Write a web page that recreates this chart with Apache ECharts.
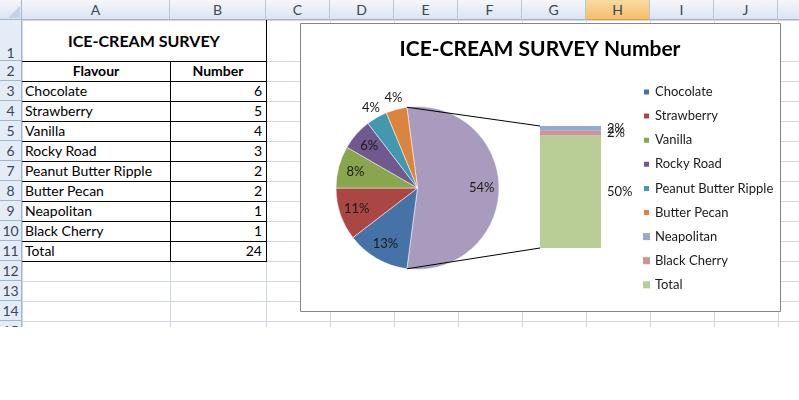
<!DOCTYPE html>
<html>
<head>
<meta charset="utf-8">
<title>ICE-CREAM SURVEY Number</title>
<style>
  body { margin: 0; background: #fff; }
  #sheet { position: absolute; left: 0; top: 0; width: 799px; height: 327px; overflow: hidden;
           font-family: Lato, 'Open Sans', sans-serif; font-size: 14px; color: #000; }
  #main { position: absolute; left: 0; top: 0; width: 799px; height: 400px; }
  .c { position: absolute; box-sizing: border-box; white-space: nowrap; }
</style>
</head>
<body>
<div id="sheet"></div>
<div id="main"></div>
<script src="https://cdn.jsdelivr.net/npm/echarts@6/dist/echarts.min.js"></script>
<script>
// survey data
var flavours = ['Chocolate', 'Strawberry', 'Vanilla', 'Rocky Road', 'Peanut Butter Ripple', 'Butter Pecan', 'Neapolitan', 'Black Cherry'];
var numbers = [6, 5, 4, 3, 2, 2, 1, 1];
var totalName = 'Total';
var totalValue = 24;
// percent labels as Excel shows them
var pieLabels = ['13%', '11%', '8%', '6%', '4%', '4%'];
var otherLabel = '54%';
var barLabels = ['2%', '2%', '50%'];
var colLetters = ['A', 'B', 'C', 'D', 'E', 'F', 'G', 'H', 'I', 'J', 'K'];
var colors = ['#4572A7', '#AA4643', '#89A54E', '#71588F', '#4198AF', '#DB843D', '#93A9CF', '#D19392', '#B9CD96'];
var otherColor = '#A99BBD';

// ---------- spreadsheet behind the chart ----------
var sheet = document.getElementById('sheet');
function add(x, y, w, h, css, text) {
  var d = document.createElement('div');
  d.className = 'c';
  d.style.cssText = 'left:' + x + 'px;top:' + y + 'px;width:' + w + 'px;height:' + h + 'px;' + (css || '');
  if (text != null) d.textContent = text;
  sheet.appendChild(d);
  return d;
}
var colEdges = [22, 170, 266, 330, 394, 458, 522, 586, 650, 714, 778, 842];
var rowEdges = [20, 61];
while (rowEdges[rowEdges.length - 1] < 340) rowEdges.push(rowEdges[rowEdges.length - 1] + 20);

// gridlines
rowEdges.forEach(function (y) { add(22, y, 777, 1, 'background:#D0D7E5'); });
colEdges.forEach(function (x, i) {
  var top = (x === 170) ? 61 : 20;
  add(x, top, 1, 327 - top, 'background:#D0D7E5');
});

// column header
add(0, 0, 799, 20, 'background:linear-gradient(#F4F7FC,#DCE4F0);border-bottom:1px solid #9EB6CE');
add(0, 0, 22, 20, 'background:linear-gradient(#F4F7FC,#DCE4F0);border-right:1px solid #9EB6CE;border-bottom:1px solid #9EB6CE');
add(8, 6, 0, 0, 'border-left:12px solid transparent;border-bottom:12px solid #C3D2E4');
colLetters.forEach(function (l, i) {
  var x = colEdges[i], w = colEdges[i + 1] - x;
  var css = 'text-align:center;line-height:20px;color:#3B4656;border-right:1px solid #B6C7DB;';
  if (l === 'H') css += 'background:linear-gradient(#F9DA9F,#F3BF6C);border-bottom:1px solid #F29B3A;';
  add(x, 0, w, 20, css, l);
});

// row header
add(0, 20, 22, 307, 'background:#E4ECF7;border-right:1px solid #9EB6CE');
for (var r = 0; r < rowEdges.length - 1; r++) {
  var y0 = rowEdges[r], h = rowEdges[r + 1] - y0;
  add(0, y0, 22, h, 'text-align:center;color:#3B4656;line-height:' + (h === 20 ? 20 : 24) + 'px;padding-top:' + (h - 20) + 'px;border-bottom:1px solid #9EB6CE;border-right:1px solid #9EB6CE', String(r + 1));
}

// table cells
add(22, 20, 245, 42, 'text-align:center;font-weight:bold;font-size:16px;line-height:42px;border-right:1px solid #000;border-bottom:1px solid #000', 'ICE-CREAM SURVEY');
add(22, 61, 149, 21, 'text-align:center;font-weight:bold;line-height:20px;border-right:1px solid #000;border-bottom:1px solid #000', 'Flavour');
add(170, 61, 97, 21, 'text-align:center;font-weight:bold;line-height:20px;border-right:1px solid #000;border-bottom:1px solid #000', 'Number');
var tableNames = flavours.concat([totalName]);
var tableValues = numbers.concat([totalValue]);
tableNames.forEach(function (n, i) {
  var y = 81 + 20 * i;
  add(22, y, 149, 21, 'padding-left:3px;line-height:20px;border-right:1px solid #000;border-bottom:1px solid #000', n);
  add(170, y, 97, 21, 'text-align:right;padding-right:4px;line-height:20px;border-right:1px solid #000;border-bottom:1px solid #000', String(tableValues[i]));
});

// ---------- chart ----------
var cx = 417.5, cy = 188, R = 81.5;
var barBox = { left: 540, top: 126, width: 61, height: 122 };
var nPie = 6;
var pieNames = flavours.slice(0, nPie);
var pieValues = numbers.slice(0, nPie);
var restNames = flavours.slice(nPie).concat([totalName]);
var restValues = numbers.slice(nPie).concat([totalValue]);
function sum(a) { return a.reduce(function (s, v) { return s + v; }, 0); }
var otherSum = sum(restValues);
var grand = sum(pieValues) + otherSum;
var half = otherSum / grand * 180;   // other slice is centred on 3 o'clock

var pieData = [{ name: 'Other', value: otherSum, itemStyle: { color: otherColor } }];
pieNames.forEach(function (n, i) {
  pieData.push({ name: n, value: pieValues[i], itemStyle: { color: colors[i] } });
});
var allPieLabels = [otherLabel].concat(pieLabels);
var outsideIdx = [5, 6];   // the two thin slices get their labels outside

function labelRing(radius, inside) {
  return {
    type: 'pie', silent: true, center: [cx, cy], radius: radius,
    startAngle: half, clockwise: true, avoidLabelOverlap: false,
    data: pieData.map(function (d, i) {
      var show = inside ? outsideIdx.indexOf(i) < 0 : outsideIdx.indexOf(i) >= 0;
      return { name: d.name, value: d.value, itemStyle: { color: 'rgba(0,0,0,0)' },
               label: { show: show } };
    }),
    label: { position: 'inside', fontFamily: 'Lato', fontSize: 13, color: '#1a1a1a',
             formatter: function (p) { return allPieLabels[p.dataIndex]; } },
    labelLine: { show: false },
    emphasis: { disabled: true }
  };
}

var rad = half * Math.PI / 180;
var topPt = [cx + R * Math.cos(rad), cy - R * Math.sin(rad)];
var botPt = [cx + R * Math.cos(rad), cy + R * Math.sin(rad)];

var series = [{
  type: 'pie', center: [cx, cy], radius: R,
  startAngle: half, clockwise: true,
  data: pieData,
  label: { show: false }, labelLine: { show: false },
  itemStyle: { borderColor: '#fff', borderWidth: 0.5 },
  emphasis: { disabled: true }
}, labelRing([R * 0.5, R], true), labelRing([R - 3, R + 20], false)];

// stacked bar: bottom to top is Total, Black Cherry, Neapolitan
for (var k = restNames.length - 1; k >= 0; k--) {
  series.push({
    type: 'bar', name: restNames[k], stack: 'rest', barWidth: '100%',
    data: [restValues[k]],
    itemStyle: { color: colors[nPie + k] },
    label: { show: true, position: 'right', distance: 6, fontFamily: 'Lato', fontSize: 13, color: '#1a1a1a',
             formatter: barLabels[k] },
    emphasis: { disabled: true }
  });
}

var chart = echarts.init(document.getElementById('main'));
chart.setOption({
  animation: false,
  grid: { left: barBox.left, top: barBox.top, width: barBox.width, height: barBox.height },
  xAxis: { type: 'category', data: ['rest'], show: false },
  yAxis: { type: 'value', min: 0, max: otherSum, show: false },
  legend: {
    orient: 'vertical', left: 642, top: 85, padding: 0,
    data: flavours.concat([totalName]),
    icon: 'rect', itemWidth: 7, itemHeight: 7, itemGap: 10.1,
    textStyle: { fontFamily: 'Lato', fontSize: 13, color: '#1a1a1a', lineHeight: 14 },
    selectedMode: false
  },
  graphic: [
    { type: 'rect', z: -10, shape: { x: 300.5, y: 23.5, width: 480, height: 288 },
      style: { fill: '#fff', stroke: '#868686', lineWidth: 1 } },
    { type: 'text', x: 540, y: 49,
      style: { text: 'ICE-CREAM SURVEY Number', font: 'bold 21px Lato', fill: '#000',
               align: 'center', verticalAlign: 'middle', textAlign: 'center', textVerticalAlign: 'middle' } },
    { type: 'line', z: 10, shape: { x1: topPt[0], y1: topPt[1], x2: barBox.left, y2: barBox.top },
      style: { stroke: '#000', lineWidth: 1 } },
    { type: 'line', z: 10, shape: { x1: botPt[0], y1: botPt[1], x2: barBox.left, y2: barBox.top + barBox.height },
      style: { stroke: '#000', lineWidth: 1 } }
  ],
  series: series
});
</script>
</body>
</html>
